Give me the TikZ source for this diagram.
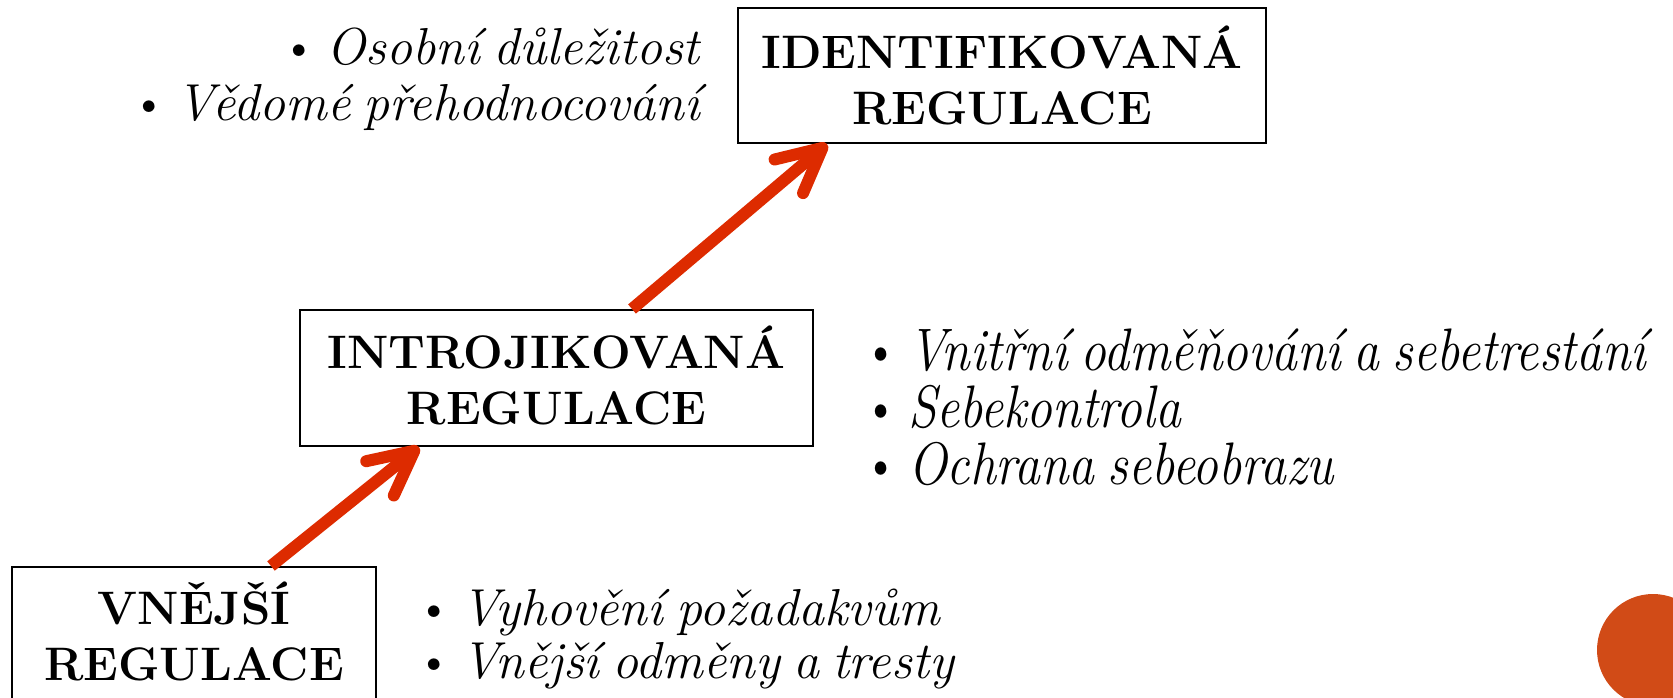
\documentclass[tikz,border=0pt]{standalone}
\usepackage{fontspec}
\usetikzlibrary{arrows.meta,calc}
\definecolor{arrowred}{RGB}{221,43,0}
\definecolor{dotorange}{RGB}{209,75,23}
% bullet with a narrow gap, and slightly tighter word spacing for the item lines
\newcommand{\bul}{\spaceskip=0.25em plus 0.1em minus 0.05em\relax{\upshape\textbullet}\hspace{0.17em}}
\begin{document}
\begin{tikzpicture}[x=1pt,y=-1pt,
  box/.style={draw=black,line width=2pt,rectangle,inner sep=0pt},
  boxtext/.style={inner sep=0pt,font=\fontsize{47}{56}\selectfont\bfseries},
  item/.style={inner sep=0pt,text height=36pt,text depth=10pt,
    font=\fontsize{52}{60}\selectfont\itshape},
  bigitem/.style={inner sep=0pt,text height=40pt,text depth=10pt,
    font=\fontsize{60}{66}\selectfont\itshape},
  uparrow/.style={draw=arrowred,line width=12pt,
    -{Straight Barb[length=44pt,width=44pt,line cap=round,line join=round]}}]
\useasboundingbox (0,0) rectangle (1673,698);
\clip (0,0) rectangle (1673,698);

% decorative disc in the corner
\fill[dotorange] (1653,650) circle (56);

% the three regulation boxes
\node[box,minimum width=364pt,minimum height=136pt] (ext) at (194,635) {};
\node[box,minimum width=513pt,minimum height=136pt] (intro) at (556.5,378) {};
\node[box,minimum width=528pt,minimum height=135pt] (ident) at (1002,75.5) {};

\node[boxtext,anchor=base] (ext1) at (ext.center |- 0,624) {VNĚJŠÍ};
\node[boxtext,anchor=base] (ext2) at (ext.center |- 0,680) {REGULACE};
\node[boxtext,anchor=base] (intro1) at (intro.center |- 0,368) {INTROJIKOVANÁ};
\node[boxtext,anchor=base] (intro2) at (intro.center |- 0,424) {REGULACE};
\node[boxtext,anchor=base] (ident1) at (ident.center |- 0,69) {IDENTIFIKOVANÁ};
\node[boxtext,anchor=base] (ident2) at (ident.center |- 0,125) {REGULACE};

% characteristics of each stage
\node[item,anchor=base east] (ia) at (700,65) {\bul Osobní důležitost};
\node[item,anchor=base east] (ib) at (700,121) {\bul Vědomé přehodnocování};

\node[bigitem,anchor=base west] (ra) at (862,370) {\scalebox{0.86}[1]{\bul Vnitřní odměňování a sebetrestání}};
\node[bigitem,anchor=base west] (rb) at (862,427) {\scalebox{0.86}[1]{\bul Sebekontrola}};
\node[bigitem,anchor=base west] (rc) at (862,484) {\scalebox{0.86}[1]{\bul Ochrana sebeobrazu}};

\node[item,anchor=base west] (ea) at (415,625) {\bul Vyhovění požadakvům};
\node[item,anchor=base west] (eb) at (415,678) {\bul Vnější odměny a tresty};

% progression arrows
\draw[uparrow] ([xshift=260pt]ext.north west) -- ([xshift=120pt]intro.south west);
\draw[uparrow] ([xshift=333pt]intro.north west) -- ([xshift=90pt]ident.south west);
\end{tikzpicture}
\end{document}
